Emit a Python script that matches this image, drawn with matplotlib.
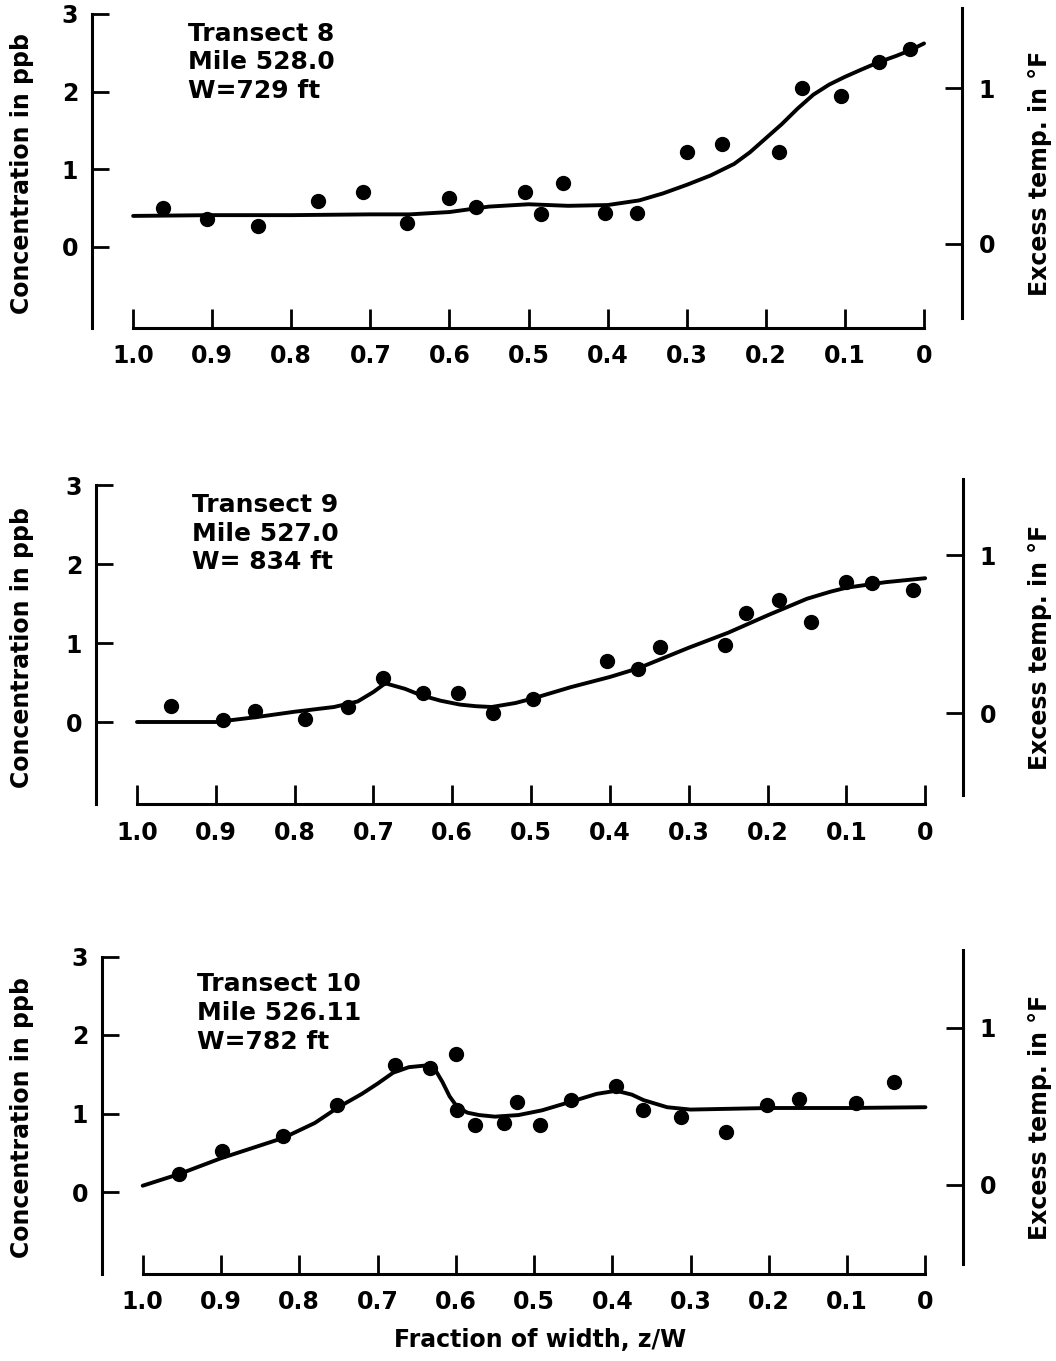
import numpy as np
import matplotlib
matplotlib.use("Agg")
import matplotlib.pyplot as plt

plt.rcParams['font.family'] = ['DejaVu Sans']
plt.rcParams['font.weight'] = 'bold'

# ---- data ----
# x = fraction of width z/W, y = concentration in ppb

# transect 8
t8_x = [0.962, 0.906, 0.842, 0.766, 0.709, 0.654, 0.601, 0.566, 0.504, 0.484,
        0.456, 0.403, 0.363, 0.300, 0.256, 0.184, 0.154, 0.105, 0.057, 0.018]
t8_y = [0.50, 0.36, 0.27, 0.59, 0.71, 0.31, 0.63, 0.51, 0.71, 0.42,
        0.82, 0.44, 0.44, 1.22, 1.33, 1.22, 2.05, 1.94, 2.38, 2.55]
t8_fit_x = [1.0, 0.9, 0.8, 0.7, 0.65, 0.6, 0.55, 0.5, 0.45, 0.40, 0.36,
            0.33, 0.30, 0.27, 0.24, 0.22, 0.20, 0.18, 0.16, 0.14, 0.12,
            0.10, 0.08, 0.057, 0.035, 0.018, 0.0]
t8_fit_y = [0.40, 0.41, 0.41, 0.42, 0.42, 0.45, 0.52, 0.55, 0.53, 0.54, 0.60,
            0.69, 0.80, 0.92, 1.07, 1.22, 1.40, 1.58, 1.78, 1.96, 2.09,
            2.19, 2.28, 2.38, 2.46, 2.53, 2.62]

# transect 9
t9_x = [0.957, 0.891, 0.850, 0.787, 0.732, 0.688, 0.637, 0.593, 0.548, 0.498,
        0.404, 0.364, 0.336, 0.254, 0.227, 0.185, 0.145, 0.100, 0.067, 0.016]
t9_y = [0.20, 0.03, 0.14, 0.04, 0.19, 0.56, 0.37, 0.37, 0.11, 0.29,
        0.77, 0.67, 0.95, 0.97, 1.38, 1.54, 1.27, 1.77, 1.76, 1.67]
t9_fit_x = [1.0, 0.9, 0.85, 0.8, 0.75, 0.72, 0.70, 0.685, 0.66, 0.64, 0.615,
            0.59, 0.57, 0.55, 0.52, 0.497, 0.45, 0.40, 0.364, 0.30, 0.25,
            0.20, 0.15, 0.12, 0.10, 0.05, 0.0]
t9_fit_y = [0.00, 0.00, 0.06, 0.13, 0.19, 0.26, 0.38, 0.49, 0.42, 0.34, 0.27,
            0.22, 0.20, 0.19, 0.24, 0.30, 0.44, 0.57, 0.68, 0.94, 1.13,
            1.35, 1.56, 1.65, 1.70, 1.77, 1.82]

# transect 10
t10_x = [0.953, 0.899, 0.821, 0.752, 0.678, 0.633, 0.600, 0.599, 0.576, 0.538,
         0.522, 0.493, 0.453, 0.395, 0.361, 0.312, 0.255, 0.203, 0.161, 0.089, 0.040]
t10_y = [0.23, 0.52, 0.71, 1.11, 1.62, 1.58, 1.76, 1.04, 0.85, 0.88,
         1.15, 0.85, 1.17, 1.35, 1.04, 0.96, 0.76, 1.11, 1.18, 1.13, 1.40]
t10_fit_x = [1.0, 0.953, 0.9, 0.86, 0.82, 0.78, 0.75, 0.72, 0.70, 0.68, 0.66,
             0.64, 0.627, 0.617, 0.608, 0.598, 0.585, 0.57, 0.55, 0.52, 0.49,
             0.453, 0.42, 0.395, 0.375, 0.36, 0.33, 0.30, 0.20, 0.10, 0.0]
t10_fit_y = [0.08, 0.23, 0.43, 0.56, 0.69, 0.88, 1.08, 1.25, 1.38, 1.52, 1.59,
             1.61, 1.57, 1.40, 1.22, 1.08, 1.01, 0.98, 0.96, 0.98, 1.04,
             1.15, 1.25, 1.29, 1.24, 1.17, 1.08, 1.05, 1.07, 1.07, 1.08]

labels = ["Transect 8\nMile 528.0\nW=729 ft",
          "Transect 9\nMile 527.0\nW= 834 ft",
          "Transect 10\nMile 526.11\nW=782 ft"]

x_ticks = [0.0, 0.1, 0.2, 0.3, 0.4, 0.5, 0.6, 0.7, 0.8, 0.9, 1.0]
x_ticklabels = ["0", "0.1", "0.2", "0.3", "0.4", "0.5", "0.6", "0.7", "0.8", "0.9", "1.0"]
conc_ticks = [0, 1, 2, 3]
temp_ticks = [0, 1]

panels = [(t8_x, t8_y, t8_fit_x, t8_fit_y),
          (t9_x, t9_y, t9_fit_x, t9_fit_y),
          (t10_x, t10_y, t10_fit_x, t10_fit_y)]

# layout in pixels: left spine, right spine, y of conc=0, px per unit, temp offset
W, H = 1056, 1361
layout = [(92, 962, 247, 77.7, 0.04),
          (96, 963, 722, 79.0, 0.11),
          (102, 963, 1192, 78.5, 0.09)]
ylo, yhi = -1.04, 3.1

fig = plt.figure(figsize=(W / 100, H / 100), dpi=100)

for i, (px, py, fx, fy) in enumerate(panels):
    left, right, zero, ppu, off = layout[i]
    bot = zero - ylo * ppu
    top = zero - yhi * ppu
    ax = fig.add_axes([left / W, 1 - bot / H, (right - left) / W, (bot - top) / H])
    ax.patch.set_alpha(0)

    ax.plot(fx, fy, '-', color='black', lw=2.8, solid_capstyle='round',
            solid_joinstyle='round')
    ax.plot(px, py, 'o', color='black', ms=10)

    ax.set_xlim(1.052, -0.048)
    ax.set_ylim(ylo, yhi)
    ax.spines['top'].set_visible(False)
    ax.spines['right'].set_visible(False)
    ax.spines['left'].set_bounds(ylo, 3)
    ax.spines['bottom'].set_bounds(0, 1)
    for s in ('left', 'bottom'):
        ax.spines[s].set_linewidth(2.2)

    ax.set_xticks(x_ticks)
    ax.set_xticklabels(x_ticklabels)
    ax.set_yticks(conc_ticks)
    ax.tick_params(axis='x', direction='in', length=14, width=2, pad=12, labelsize=17)
    ax.tick_params(axis='y', direction='in', length=12, width=2, pad=10, labelsize=17)

    ax2 = ax.twinx()
    ax2.set_ylim((ylo - off) / 2, (yhi - off) / 2)
    for s in ('left', 'top', 'bottom'):
        ax2.spines[s].set_visible(False)
    ax2.spines['right'].set_bounds((-0.92 - off) / 2, (3.08 - off) / 2)
    ax2.spines['right'].set_linewidth(2.2)
    ax2.set_yticks(temp_ticks)
    ax2.tick_params(axis='y', direction='in', length=12, width=2, pad=12, labelsize=17)

    span = right - left
    ax.text((22 - left) / span, 0.48, "Concentration in ppb", transform=ax.transAxes,
            rotation=90, ha='center', va='center', fontsize=17)
    ax.text((1040 - left) / span, 0.48, "Excess temp. in °F", transform=ax.transAxes,
            rotation=90, ha='center', va='center', fontsize=17)

    ax.text(0.93, 2.9 if i < 2 else 2.8, labels[i], ha='left', va='top',
            fontsize=18, linespacing=1.25)

fig.text(540 / W, 1 - 1340 / H, "Fraction of width, z/W", ha='center', va='center',
         fontsize=17)

fig.savefig("out.png", dpi=100, facecolor='white')
